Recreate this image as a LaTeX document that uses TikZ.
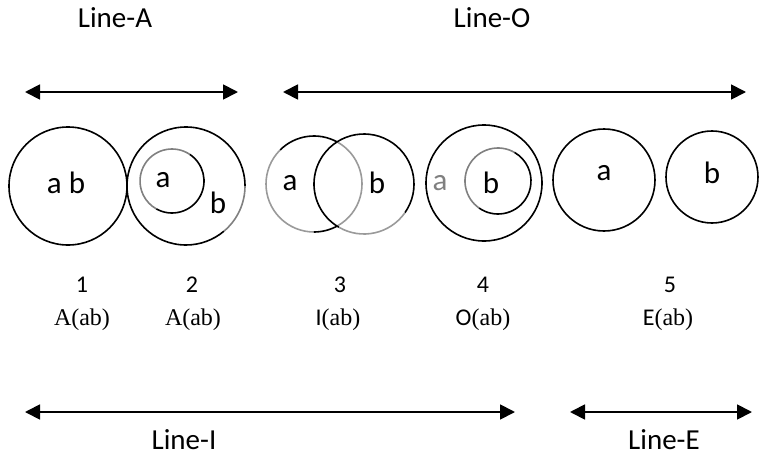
\documentclass[tikz,border=0pt]{standalone}
\usepackage{fontspec}
\setmainfont{Liberation Serif}
\newfontfamily\carl{Carlito}
\usetikzlibrary{arrows.meta}
\definecolor{rimgray}{HTML}{808080}
\definecolor{venngray}{HTML}{9A9A9A}
\begin{document}
\begin{tikzpicture}[x=1pt,y=1pt,
  ring/.style={circle, inner sep=0pt, outer sep=0pt, line width=1.6pt},
  span/.style={line width=1.8pt,
    {Triangle[length=15pt,width=15pt]}-{Triangle[length=15pt,width=15pt]}},
  title/.style={font=\carl\fontsize{29}{34}\selectfont},
  letter/.style={font=\carl\fontsize{31}{36}\selectfont},
  num/.style={font=\carl\fontsize{24}{28}\selectfont},
  form/.style={font=\fontsize{24}{28}\selectfont},
  blackpen/.style={line width=1.6pt, black},
  graypen/.style={line width=1.6pt, rimgray},
  lightpen/.style={line width=1.6pt, venngray}]
\useasboundingbox (0,0) rectangle (760,459);

% ---- range titles
\node[title] (tA) at (115,441) {Line-A};
\node[title] (tO) at (492,441) {Line-O};
\node[title] (tI) at (184,19) {Line-I};
\node[title] (tE) at (664,19) {Line-E};

% ---- range arrows
\coordinate (aL) at (25,367);  \coordinate (aR) at (238,367);
\coordinate (oL) at (283,367); \coordinate (oR) at (746,367);
\coordinate (iL) at (25,47);   \coordinate (iR) at (515,47);
\coordinate (eL) at (570,47);  \coordinate (eR) at (752,47);
\draw[span] (aL) -- (aR);
\draw[span] (oL) -- (oR);
\draw[span] (iL) -- (iR);
\draw[span] (eL) -- (eR);

% ---- 1: a and b coincide
\node[ring, draw, minimum size=118pt] (c1) at (68,273) {};
\node[letter] (t1) at (66,276) {a b};

% ---- 2: a inside b
\node[ring, minimum size=118pt] (c2o) at (186,273) {};
\draw[blackpen] (c2o.0) arc[start angle=0, end angle=310, radius=59pt];
\draw[graypen] (c2o.-50) arc[start angle=-50, end angle=0, radius=59pt];
\node[ring, minimum size=64pt] (c2i) at (172,278) {};
\draw[graypen] (c2i.56) arc[start angle=56, end angle=241, radius=32pt];
\draw[blackpen] (c2i.241) arc[start angle=241, end angle=416, radius=32pt];
\node[letter] (t2a) at (163,279) {a};
\node[letter] (t2b) at (218,256) {b};

% ---- 3: overlapping a and b
\node[ring, minimum size=96pt] (c3a) at (314,275) {};
\draw[blackpen] (c3a.61) arc[start angle=61, end angle=135, radius=48pt];
\draw[lightpen] (c3a.135) arc[start angle=135, end angle=270, radius=48pt];
\draw[blackpen] (c3a.270) arc[start angle=270, end angle=299, radius=48pt];
\draw[lightpen] (c3a.299) arc[start angle=299, end angle=421, radius=48pt];
\node[ring, minimum size=100pt] (c3b) at (364,275) {};
\draw[blackpen] (c3b.-35) arc[start angle=-35, end angle=240, radius=50pt];
\draw[lightpen] (c3b.240) arc[start angle=240, end angle=325, radius=50pt];
\node[letter] (t3a) at (290,276) {a};
\node[letter] (t3b) at (377,276) {b};

% ---- 4: b inside a
\node[ring, draw, minimum size=116pt] (c4o) at (484,276) {};
\node[ring, minimum size=66pt] (c4i) at (498,278) {};
\draw[graypen] (c4i.60) arc[start angle=60, end angle=235, radius=33pt];
\draw[blackpen] (c4i.235) arc[start angle=235, end angle=420, radius=33pt];
\node[letter, text=rimgray] (t4a) at (440,276) {a};
\node[letter] (t4b) at (491,276) {b};

% ---- 5: a and b apart
\node[ring, draw, minimum size=102pt] (c5a) at (604,279) {};
\node[ring, draw, minimum size=92pt] (c5b) at (712,282) {};
\node[letter] (t5a) at (604,286) {a};
\node[letter] (t5b) at (712,286) {b};

% ---- case numbers
\node[num] (n1) at (82,174) {1};
\node[num] (n2) at (192,174) {2};
\node[num] (n3) at (340,174) {3};
\node[num] (n4) at (483,174) {4};
\node[num] (n5) at (670,174) {5};

% ---- propositions
\node[form] (f1) at (82,139) {A(ab)};
\node[form] (f2) at (193,139) {A(ab)};
\node[form] (f3) at (338,139) {{\carl I}(ab)};
\node[form] (f4) at (483,139) {{\carl O}(ab)};
\node[form] (f5) at (668,139) {{\carl E}(ab)};
\end{tikzpicture}
\end{document}
